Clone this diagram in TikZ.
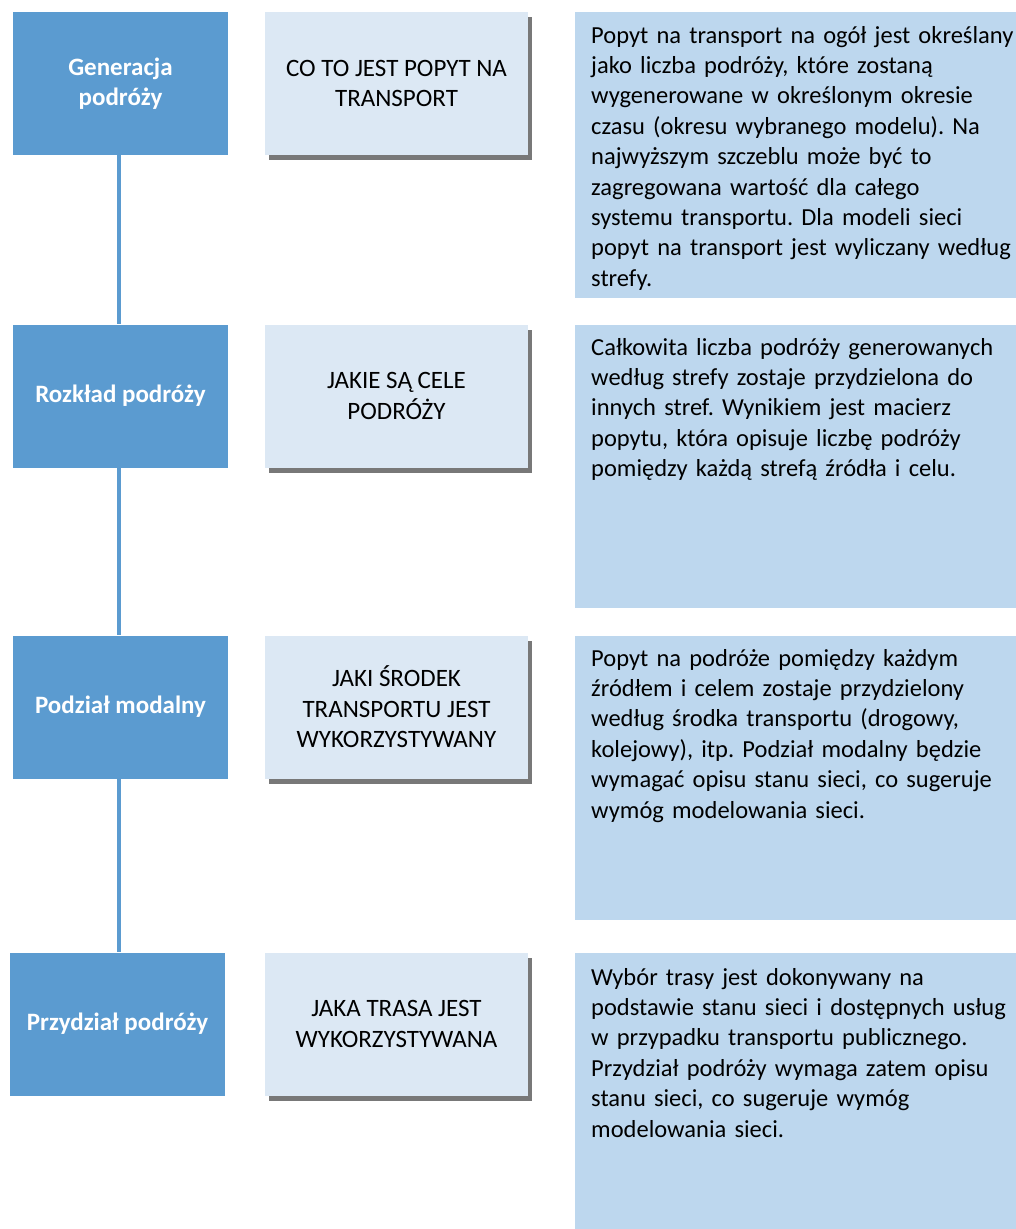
\documentclass[tikz,border=0pt]{standalone}
\usepackage{fontspec}
\setmainfont{Carlito}
\usetikzlibrary{shadows}
\definecolor{darkblue}{HTML}{5B9BD0}
\definecolor{midblue}{HTML}{DCE8F4}
\definecolor{lightblue}{HTML}{BDD7EE}
\frenchspacing
\begin{document}
\begin{tikzpicture}[x=1pt,y=-1pt,
  stagebox/.style={fill=darkblue, text=white, font=\fontsize{25}{30}\selectfont\bfseries,
    minimum width=215pt, minimum height=143pt, align=center, inner sep=0pt},
  qbox/.style={fill=midblue, text=black, font=\fontsize{25}{30.5}\selectfont,
    minimum width=263pt, minimum height=143pt, align=center, inner sep=0pt,
    drop shadow={shadow xshift=4pt, shadow yshift=-5pt, fill=black!70, opacity=0.75}},
  descbox/.style={fill=lightblue, anchor=north west, minimum width=441pt, inner sep=0pt},
  desctext/.style={anchor=base west, text width=440pt, align=left, inner sep=0pt,
    text=black, font=\fontsize{24.5}{30.4}\selectfont},
  spine/.style={draw=darkblue, line width=4pt}]
\fill[white] (0,0) rectangle (1016,1229);
\useasboundingbox (0,0) rectangle (1016,1229);
\coordinate (sp) at (119,0);

% left stage boxes
\node[stagebox] (l1) at (120.5,83.5) {Generacja\\podróży};
\node[stagebox] (l2) at (120.5,396) {Rozkład podróży};
\node[stagebox] (l3) at (120.5,707) {Podział modalny};
\node[stagebox] (l4) at (117.5,1024) {Przydział podróży};

\draw[spine] (l1.south -| sp) -- (l2.north -| sp);
\draw[spine] (l2.south -| sp) -- (l3.north -| sp);
\draw[spine] (l3.south -| sp) -- (l4.north -| sp);

% question boxes
\node[qbox] (q1) at (396.5,83.5) {CO TO JEST POPYT NA\\TRANSPORT};
\node[qbox] (q2) at (396.5,396) {JAKIE SĄ CELE\\PODRÓŻY};
\node[qbox] (q3) at (396.5,707) {JAKI ŚRODEK\\TRANSPORTU JEST\\WYKORZYSTYWANY};
\node[qbox] (q4) at (396.5,1024) {JAKA TRASA JEST\\WYKORZYSTYWANA};

% description boxes
\node[descbox, minimum height=286pt] (d1) at (575,12) {};
\node[descbox, minimum height=283pt] (d2) at (575,325) {};
\node[descbox, minimum height=284pt] (d3) at (575,636) {};
\node[descbox, minimum height=276pt] (d4) at (575,953) {};

\node[desctext] (t1) at ([xshift=16pt,yshift=-31pt]d1.north west)
 {Popyt na transport na ogół jest określany\\jako liczba podróży, które zostaną\\wygenerowane w określonym okresie\\czasu (okresu wybranego modelu). Na\\najwyższym szczeblu może być to\\zagregowana wartość dla całego\\systemu transportu. Dla modeli sieci\\popyt na transport jest wyliczany według\\strefy.};
\node[desctext] (t2) at ([xshift=16pt,yshift=-30pt]d2.north west)
 {Całkowita liczba podróży generowanych\\według strefy zostaje przydzielona do\\innych stref. Wynikiem jest macierz\\popytu, która opisuje liczbę podróży\\pomiędzy każdą strefą źródła i celu.};
\node[desctext] (t3) at ([xshift=16pt,yshift=-30pt]d3.north west)
 {Popyt na podróże pomiędzy każdym\\źródłem i celem zostaje przydzielony\\według środka transportu (drogowy,\\kolejowy), itp. Podział modalny będzie\\wymagać opisu stanu sieci, co sugeruje\\wymóg modelowania sieci.};
\node[desctext] (t4) at ([xshift=16pt,yshift=-32pt]d4.north west)
 {Wybór trasy jest dokonywany na\\podstawie stanu sieci i dostępnych usług\\w przypadku transportu publicznego.\\Przydział podróży wymaga zatem opisu\\stanu sieci, co sugeruje wymóg\\modelowania sieci.};
\end{tikzpicture}
\end{document}
